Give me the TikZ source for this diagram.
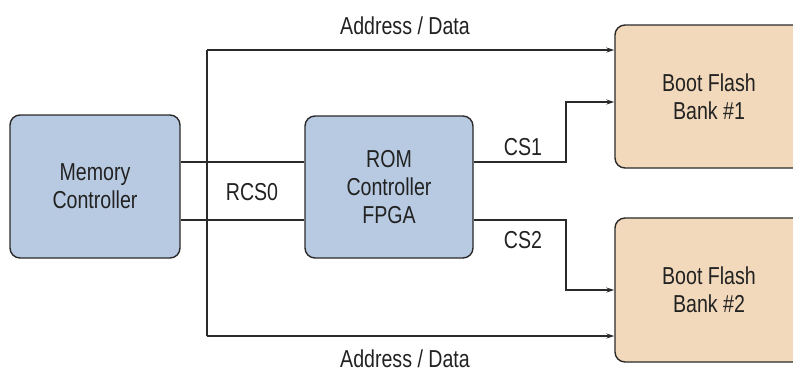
\documentclass[tikz,border=0pt]{standalone}
\usepackage{fontspec}
\setmainfont[FakeStretch=0.8]{Liberation Sans}
\usetikzlibrary{arrows.meta}
\definecolor{blueF}{HTML}{B8CAE1}
\definecolor{peachF}{HTML}{F3D9BC}
\definecolor{edge}{HTML}{2A2A2A}
\definecolor{txt}{HTML}{222222}
\begin{document}
\begin{tikzpicture}[x=1pt,y=-1pt,
  blk/.style={draw=edge,line width=1.4pt,rounded corners=10pt,inner sep=0pt,align=center,
    font=\fontsize{24.5}{28}\selectfont,text=txt},
  bluebox/.style={blk,fill=blueF},
  peachbox/.style={blk,fill=peachF},
  wire/.style={draw=edge,line width=1.3pt},
  arr/.style={wire,-{Stealth[length=8pt,width=5pt]}},
  lbl/.style={font=\fontsize{24.5}{28}\selectfont,text=txt,inner sep=0pt}]
\useasboundingbox (0,0) rectangle (793,373);
\clip (0,0) rectangle (793,373);
\node[bluebox,minimum width=170pt,minimum height=143pt] (mem) at (95,186.5) {Memory\\Controller};
\node[bluebox,minimum width=168pt,minimum height=142pt] (rom) at (389,187) {ROM\\Controller\\FPGA};
\node[peachbox,minimum width=188pt,minimum height=143pt] (bf1) at (709,96.5) {Boot Flash\\Bank \#1};
\node[peachbox,minimum width=188pt,minimum height=144pt] (bf2) at (709,290) {Boot Flash\\Bank \#2};
% RCS0 bus
\draw[wire] (mem.east |- 0,162) -- (rom.west |- 0,162);
\draw[wire] (mem.east |- 0,220) -- (rom.west |- 0,220);
\node[lbl] (rcs) at (252,192) {RCS0};
% address/data
\coordinate (adtop) at (207,50);
\coordinate (adbot) at (207,336);
\draw[wire] (adtop) -- (adbot);
\draw[arr] (adtop) -- (bf1.west |- adtop);
\draw[arr] (adbot) -- (bf2.west |- adbot);
\node[lbl] (ad1) at (405,26) {Address / Data};
\node[lbl] (ad2) at (405,359) {Address / Data};
% chip selects
\coordinate (c1) at (566,102);
\coordinate (c2) at (566,290);
\draw[arr] (rom.east |- 0,162) -| (c1) -- (bf1.west |- c1);
\draw[arr] (rom.east |- 0,220) -| (c2) -- (bf2.west |- c2);
\node[lbl] (cs1) at (523,147) {CS1};
\node[lbl] (cs2) at (523,240) {CS2};
\end{tikzpicture}
\end{document}
